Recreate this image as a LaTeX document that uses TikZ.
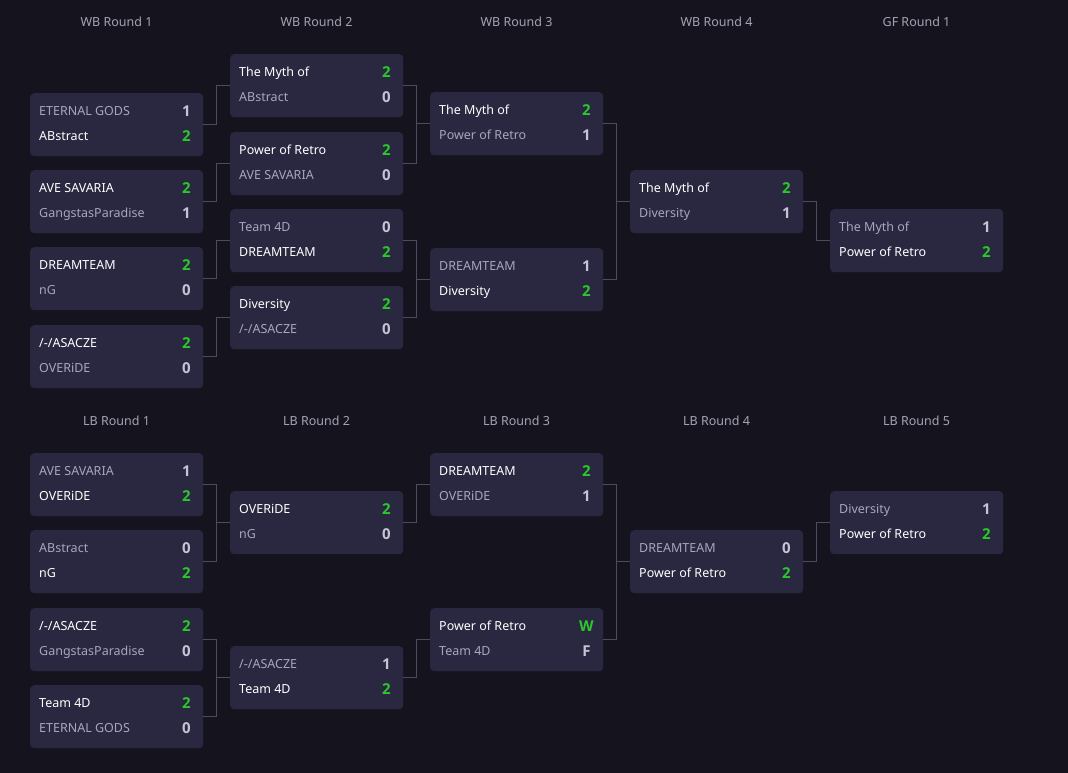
\documentclass[tikz,border=0pt]{standalone}
\usepackage{fontspec}
\setmainfont{Noto Sans}
\newfontfamily\scorefont{Open Sans}
\usepackage{tikz}
\usetikzlibrary{positioning}
\definecolor{bg}{HTML}{15141E}
\definecolor{card}{HTML}{2A2840}
\definecolor{wire}{HTML}{4D4C5E}
\definecolor{head}{HTML}{A3A3B5}
\definecolor{lose}{HTML}{A6A6C2}
\definecolor{losescore}{HTML}{C4C4D4}
\definecolor{winscore}{HTML}{2BC82B}

\tikzset{
  card/.style={fill=card, rounded corners=4pt, minimum width=173pt, minimum height=63pt, anchor=north west, inner sep=0pt},
  teamw/.style={anchor=west, inner sep=0pt, text height=9pt, text depth=0pt, text=white, font=\fontsize{12.5}{14}\selectfont},
  teaml/.style={teamw, text=lose},
  scorew/.style={anchor=center, inner sep=0pt, text height=10.7pt, text depth=0pt, text=winscore, font=\fontsize{15}{17}\selectfont\scorefont\bfseries},
  scorel/.style={scorew, text=losescore},
  wire/.style={draw=wire, line width=1.2pt},
  roundhead/.style={text=head, font=\fontsize{12.5}{14}\selectfont}
}

% name, x, y, team a, score a, w/l, team b, score b, w/l
\newcommand\bmatch[9]{%
  \node[card] (#1) at (#2,#3) {};
  \node[team#6] (#1a) at ([xshift=9pt,yshift=-18.2pt]#1.north west) {#4};
  \node[score#6] (#1as) at ([xshift=-17pt,yshift=-18pt]#1.north east) {#5};
  \node[team#9] (#1b) at ([xshift=9pt,yshift=-43.2pt]#1.north west) {#7};
  \node[score#9] (#1bs) at ([xshift=-17pt,yshift=-43pt]#1.north east) {#8};
}

\begin{document}
\begin{tikzpicture}[x=1pt,y=-1pt]
  \fill[bg] (0,0) rectangle (1068,773);

  % round titles
  \path
  (116.5,21.5) node[roundhead](h1) {WB Round 1}
  (316.5,21.5) node[roundhead](h2) {WB Round 2}
  (516.5,21.5) node[roundhead](h3) {WB Round 3}
  (716.5,21.5) node[roundhead](h4) {WB Round 4}
  (916.5,21.5) node[roundhead](h5) {GF Round 1}
  (116.5,420.5) node[roundhead](l1) {LB Round 1}
  (316.5,420.5) node[roundhead](l2) {LB Round 2}
  (516.5,420.5) node[roundhead](l3) {LB Round 3}
  (716.5,420.5) node[roundhead](l4) {LB Round 4}
  (916.5,420.5) node[roundhead](l5) {LB Round 5}
  ;

  % winners bracket
  \bmatch{wb11}{30}{93}{ETERNAL GODS}{1}{l}{ABstract}{2}{w}
  \bmatch{wb12}{30}{170}{AVE SAVARIA}{2}{w}{GangstasParadise}{1}{l}
  \bmatch{wb13}{30}{247}{DREAMTEAM}{2}{w}{nG}{0}{l}
  \bmatch{wb14}{30}{325}{/-/ASACZE}{2}{w}{OVERiDE}{0}{l}
  \bmatch{wb21}{230}{54}{The Myth of}{2}{w}{ABstract}{0}{l}
  \bmatch{wb22}{230}{132}{Power of Retro}{2}{w}{AVE SAVARIA}{0}{l}
  \bmatch{wb23}{230}{209}{Team 4D}{0}{l}{DREAMTEAM}{2}{w}
  \bmatch{wb24}{230}{286}{Diversity}{2}{w}{/-/ASACZE}{0}{l}
  \bmatch{wb31}{430}{92}{The Myth of}{2}{w}{Power of Retro}{1}{l}
  \bmatch{wb32}{430}{248}{DREAMTEAM}{1}{l}{Diversity}{2}{w}
  \bmatch{wb41}{630}{170}{The Myth of}{2}{w}{Diversity}{1}{l}
  \bmatch{gf1}{830}{209}{The Myth of}{1}{l}{Power of Retro}{2}{w}

  % losers bracket
  \bmatch{lb11}{30}{453}{AVE SAVARIA}{1}{l}{OVERiDE}{2}{w}
  \bmatch{lb12}{30}{530}{ABstract}{0}{l}{nG}{2}{w}
  \bmatch{lb13}{30}{608}{/-/ASACZE}{2}{w}{GangstasParadise}{0}{l}
  \bmatch{lb14}{30}{685}{Team 4D}{2}{w}{ETERNAL GODS}{0}{l}
  \bmatch{lb21}{230}{491}{OVERiDE}{2}{w}{nG}{0}{l}
  \bmatch{lb22}{230}{646}{/-/ASACZE}{1}{l}{Team 4D}{2}{w}
  \bmatch{lb31}{430}{453}{DREAMTEAM}{2}{w}{OVERiDE}{1}{l}
  \bmatch{lb32}{430}{608}{Power of Retro}{W}{w}{Team 4D}{F}{l}
  \bmatch{lb41}{630}{530}{DREAMTEAM}{0}{l}{Power of Retro}{2}{w}
  \bmatch{lb51}{830}{491}{Diversity}{1}{l}{Power of Retro}{2}{w}

  \foreach \a/\b in {wb11/wb21,wb12/wb22,wb13/wb23,wb14/wb24,
    wb21/wb31,wb22/wb31,wb23/wb32,wb24/wb32,wb31/wb41,wb32/wb41,wb41/gf1,
    lb11/lb21,lb12/lb21,lb13/lb22,lb14/lb22,lb21/lb31,lb22/lb32,
    lb31/lb41,lb32/lb41,lb41/lb51}
    \draw[wire] (\a.east) -- ++(13,0) |- (\b.west);
\end{tikzpicture}
\end{document}
